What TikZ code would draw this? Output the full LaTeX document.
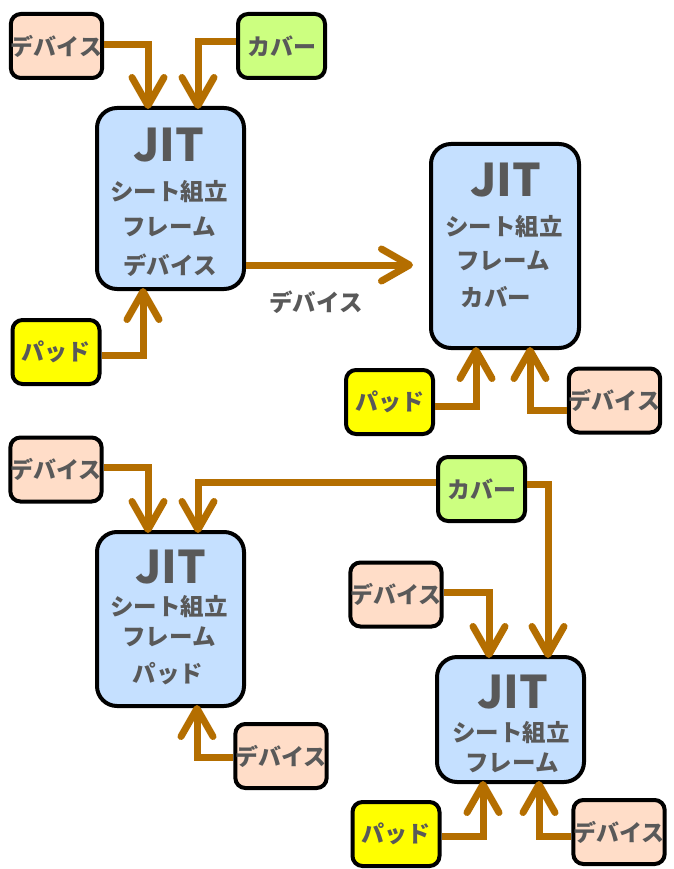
\documentclass[tikz,border=0pt]{standalone}
\usepackage{fontspec}
\setmainfont{Noto Sans CJK JP}
\usetikzlibrary{arrows.meta}
\definecolor{arr}{RGB}{180,110,0}
\definecolor{txt}{RGB}{89,89,89}
\definecolor{devfill}{RGB}{255,221,200}
\definecolor{covfill}{RGB}{204,255,128}
\definecolor{padfill}{RGB}{255,255,0}
\definecolor{jitfill}{RGB}{197,224,255}
\begin{document}
\begin{tikzpicture}[x=1pt,y=-1pt,
  small/.style={draw=black, line width=4pt, rounded corners=10pt, minimum width=87pt, minimum height=64pt, inner sep=0pt, font=\bfseries\fontsize{23}{23}\selectfont, text=txt},
  dev/.style={small, fill=devfill},
  cov/.style={small, fill=covfill},
  pad/.style={small, fill=padfill},
  jit/.style={draw=black, line width=4pt, rounded corners=20pt, fill=jitfill, inner sep=0pt},
  big/.style={font=\bfseries\fontsize{45}{45}\selectfont, text=txt, inner sep=0pt},
  jp/.style={font=\bfseries\fontsize{23.5}{23.5}\selectfont, text=txt, inner sep=0pt},
  conn/.style={draw=arr, line width=7pt, -{Straight Barb[length=28pt,width=32pt,round]}, shorten >=-3pt}
]
\useasboundingbox (0,0) rectangle (673,869);

% JIT boxes
\node[jit, minimum width=147pt, minimum height=181pt] (A) at (170.5,198.5) {};
\node[jit, minimum width=148pt, minimum height=204pt] (B) at (505,246) {};
\node[jit, minimum width=147pt, minimum height=174pt] (C) at (170.5,619) {};
\node[jit, minimum width=147pt, minimum height=125pt] (D) at (510.5,719.5) {};

% texts in JIT boxes
\node[big] (a1) at (169,145) {JIT};
\node[jp] (a2) at (169,192) {シート組立};
\node[jp] (a3) at (169,227) {フレーム};
\node[jp] (a4) at (170,265) {デバイス};

\node[big] (b1) at (506,180) {JIT};
\node[jp] (b2) at (504,227) {シート組立};
\node[jp] (b3) at (503,261) {フレーム};
\node[jp] (b4) at (496,297) {カバー};

\node[big] (c1) at (171,567) {JIT};
\node[jp] (c2) at (169,607) {シート組立};
\node[jp] (c3) at (169,637) {フレーム};
\node[jp] (c4) at (168,674) {パッド};

\node[big] (d1) at (513,692) {JIT};
\node[jp] (d2) at (511,733) {シート組立};
\node[jp] (d3) at (512,763) {フレーム};

% small boxes
\node[dev] (dev1) at (56.5,46) {デバイス};
\node[cov] (cov1) at (281.5,46) {カバー};
\node[pad] (pad1) at (56,352) {パッド};
\node[pad] (pad2) at (389.5,402) {パッド};
\node[dev] (dev2) at (614.5,400.5) {デバイス};
\node[dev] (dev3) at (56,469.5) {デバイス};
\node[cov] (cov2) at (481.5,489) {カバー};
\node[dev] (dev4) at (281,756) {デバイス};
\node[dev] (dev5) at (396,594.5) {デバイス};
\node[pad] (pad3) at (396,834) {パッド};
\node[dev] (dev6) at (619,832) {デバイス};

% label
\node[jp] (lbl) at (316,302) {デバイス};

% connectors
\draw[conn] ([yshift=1pt]dev1.east) -| ([xshift=-22.5pt]A.north);
\draw[conn] ([yshift=4pt]cov1.west) -| ([xshift=27.5pt]A.north);
\draw[conn, shorten >=16pt] ([yshift=-66.5pt]A.east) -- ([yshift=-19pt]B.west);
\draw[conn] ([yshift=-3pt]pad1.east) -| ([xshift=-27.5pt]A.south);
\draw[conn] ([yshift=-4pt]pad2.east) -| ([xshift=-29pt]B.south);
\draw[conn] ([yshift=-9.5pt]dev2.west) -| ([xshift=25pt]B.south);
\draw[conn] ([yshift=2.5pt]dev3.east) -| ([xshift=-22.5pt]C.north);
\draw[conn] ([yshift=7pt]cov2.west) -| ([xshift=27.5pt]C.north);
\draw[conn] ([yshift=5pt]cov2.east) -| ([xshift=37.5pt]D.north);
\draw[conn] ([yshift=2.5pt]dev5.east) -| ([xshift=-21.5pt]D.north);
\draw[conn] ([yshift=-1pt]dev4.west) -| ([xshift=26.5pt]C.south);
\draw[conn] ([yshift=-2pt]pad3.east) -| ([xshift=-27.5pt]D.south);
\draw[conn] ([yshift=-4pt]dev6.west) -| ([xshift=28.5pt]D.south);
\end{tikzpicture}
\end{document}
